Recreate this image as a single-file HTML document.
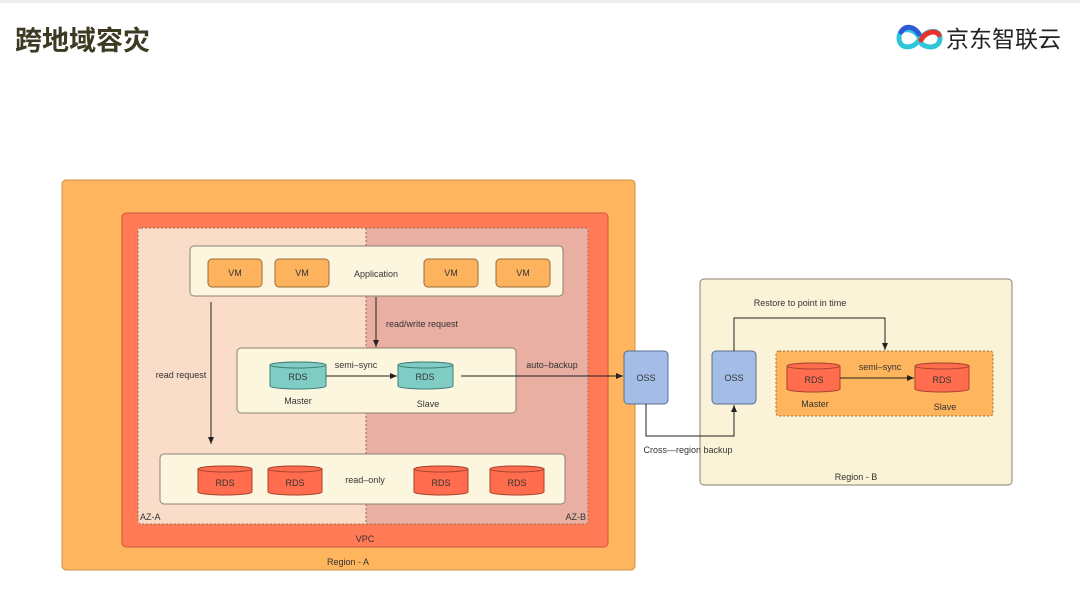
<!DOCTYPE html>
<html><head><meta charset="utf-8"><style>
html,body{margin:0;padding:0;background:#fff;}
svg{display:block;}
text{font-family:"Liberation Sans","Noto Sans CJK SC",sans-serif;}
</style></head><body>
<svg width="1080" height="591" viewBox="0 0 1080 591" xmlns="http://www.w3.org/2000/svg">
<defs>
<marker id="ar" markerWidth="8" markerHeight="8" refX="7" refY="4" orient="auto" markerUnits="userSpaceOnUse"><path d="M0,1 L7,4 L0,7 Z" fill="#222"/></marker>
</defs>
<rect x="0" y="0" width="1080" height="3" fill="#eeeeee"/>
<text x="15" y="50" font-size="27" font-weight="bold" fill="#3c3a22" font-family="Noto Sans CJK SC, sans-serif">跨地域容灾</text>
<!-- logo -->
<g fill="none" stroke-width="5" stroke-linecap="round">
<path d="M919,37 C913,27 899,27 899,38 C899,49 913,50 919,40 C925,30 940,28 940,38 C940,49 926,49 921,43" stroke="#2fc6dc"/>
<path d="M901,32 C905,25 914,26 919,34" stroke="#2d5bd8"/>
<path d="M921,40 C926,31 936,30 939,35" stroke="#e8322c"/>
</g>
<text x="946" y="47" font-size="23" fill="#222" font-family="Noto Sans CJK SC, sans-serif">京东智联云</text>

<!-- Region A -->
<rect x="62" y="180" width="573" height="390" rx="4" fill="#FFB55E" stroke="#c9914a" stroke-width="1"/>
<rect x="122" y="213" width="486" height="334" rx="4" fill="#FF7A55" stroke="#c85a3e" stroke-width="1"/>
<rect x="138" y="228" width="228" height="296" fill="#F9DDC8"/>
<rect x="366" y="228" width="222" height="296" fill="#E8AFA2"/>
<rect x="138" y="228" width="450" height="296" rx="3" fill="none" stroke="#9a6a5a" stroke-width="1" stroke-dasharray="2,2"/>
<line x1="366" y1="228" x2="366" y2="524" stroke="#9a6a5a" stroke-width="1" stroke-dasharray="2,2"/>
<text x="140" y="520" font-size="9" fill="#333">AZ-A</text>
<text x="586" y="520" font-size="9" fill="#333" text-anchor="end">AZ-B</text>
<text x="365" y="542" font-size="9" fill="#333" text-anchor="middle">VPC</text>
<text x="348" y="565" font-size="9" fill="#333" text-anchor="middle">Region - A</text>

<!-- Application -->
<rect x="190" y="246" width="373" height="50" rx="4" fill="#FDF6DF" stroke="#8a8270" stroke-width="1"/>
<g fill="#FDB35E" stroke="#9a6a3a" stroke-width="1">
<rect x="208" y="259" width="54" height="28" rx="4"/>
<rect x="275" y="259" width="54" height="28" rx="4"/>
<rect x="424" y="259" width="54" height="28" rx="4"/>
<rect x="496" y="259" width="54" height="28" rx="4"/>
</g>
<g font-size="9" fill="#333" text-anchor="middle">
<text x="235" y="276">VM</text><text x="302" y="276">VM</text><text x="451" y="276">VM</text><text x="523" y="276">VM</text>
<text x="376" y="277">Application</text>
</g>

<!-- middle box -->
<rect x="237" y="348" width="279" height="65" rx="4" fill="#FDF6DF" stroke="#8a8270" stroke-width="1"/>
<g fill="#7ECCC4" stroke="#3f7f78" stroke-width="1">
<path d="M270,365 A28,3 0 0 1 326,365 V386 A28,3 0 0 1 270,386 Z"/><ellipse cx="298" cy="365" rx="28" ry="3"/>
<path d="M398,365 A27.5,3 0 0 1 453,365 V386 A27.5,3 0 0 1 398,386 Z"/><ellipse cx="425.5" cy="365" rx="27.5" ry="3"/>
</g>
<g font-size="9" fill="#333" text-anchor="middle">
<text x="298" y="380">RDS</text><text x="425" y="380">RDS</text>
<text x="298" y="404">Master</text><text x="428" y="407">Slave</text>
<text x="356" y="368">semi–sync</text>
<text x="181" y="378">read request</text>
<text x="552" y="368">auto–backup</text>
</g>
<text x="386" y="327" font-size="9" fill="#333">read/write request</text>
<line x1="326" y1="376" x2="397" y2="376" stroke="#222" stroke-width="1" marker-end="url(#ar)"/>
<line x1="376" y1="297" x2="376" y2="347" stroke="#222" stroke-width="1" marker-end="url(#ar)"/>
<line x1="211" y1="302" x2="211" y2="444" stroke="#222" stroke-width="1" marker-end="url(#ar)"/>
<line x1="461" y1="376" x2="623" y2="376" stroke="#222" stroke-width="1" marker-end="url(#ar)"/>

<!-- bottom box -->
<rect x="160" y="454" width="405" height="50" rx="4" fill="#FDF6DF" stroke="#8a8270" stroke-width="1"/>
<g fill="#FF6D4E" stroke="#a8432e" stroke-width="1">
<path d="M198,469 A27,3 0 0 1 252,469 V492 A27,3 0 0 1 198,492 Z"/><ellipse cx="225" cy="469" rx="27" ry="3"/>
<path d="M268,469 A27,3 0 0 1 322,469 V492 A27,3 0 0 1 268,492 Z"/><ellipse cx="295" cy="469" rx="27" ry="3"/>
<path d="M414,469 A27,3 0 0 1 468,469 V492 A27,3 0 0 1 414,492 Z"/><ellipse cx="441" cy="469" rx="27" ry="3"/>
<path d="M490,469 A27,3 0 0 1 544,469 V492 A27,3 0 0 1 490,492 Z"/><ellipse cx="517" cy="469" rx="27" ry="3"/>
</g>
<g font-size="9" fill="#333" text-anchor="middle">
<text x="225" y="486">RDS</text><text x="295" y="486">RDS</text><text x="441" y="486">RDS</text><text x="517" y="486">RDS</text>
<text x="365" y="483">read–only</text>
</g>

<!-- Region B -->
<rect x="700" y="279" width="312" height="206" rx="4" fill="#FBF3D7" stroke="#8a8270" stroke-width="1"/>
<text x="856" y="480" font-size="9" fill="#333" text-anchor="middle">Region - B</text>
<rect x="776" y="351" width="217" height="65" rx="3" fill="#FFB55E" stroke="#9a6a3a" stroke-width="1" stroke-dasharray="2,2"/>
<g fill="#FF6D4E" stroke="#a8432e" stroke-width="1">
<path d="M787,366 A26.5,3 0 0 1 840,366 V389 A26.5,3 0 0 1 787,389 Z"/><ellipse cx="813.5" cy="366" rx="26.5" ry="3"/>
<path d="M915,366 A27,3 0 0 1 969,366 V389 A27,3 0 0 1 915,389 Z"/><ellipse cx="942" cy="366" rx="27" ry="3"/>
</g>
<g font-size="9" fill="#333" text-anchor="middle">
<text x="814" y="383">RDS</text><text x="942" y="383">RDS</text>
<text x="815" y="407">Master</text><text x="945" y="410">Slave</text>
<text x="880" y="370">semi–sync</text>
<text x="800" y="306">Restore to point in time</text>
<text x="688" y="453">Cross—region backup</text>
</g>
<line x1="840" y1="378" x2="914" y2="378" stroke="#222" stroke-width="1" marker-end="url(#ar)"/>

<!-- OSS -->
<rect x="624" y="351" width="44" height="53" rx="4" fill="#A3BDE6" stroke="#5a6f92" stroke-width="1"/>
<rect x="712" y="351" width="44" height="53" rx="4" fill="#A3BDE6" stroke="#5a6f92" stroke-width="1"/>
<text x="646" y="381" font-size="9" fill="#333" text-anchor="middle">OSS</text>
<text x="734" y="381" font-size="9" fill="#333" text-anchor="middle">OSS</text>
<polyline points="646,404 646,436 734,436 734,405" fill="none" stroke="#222" stroke-width="1" marker-end="url(#ar)"/>
<polyline points="734,351 734,318 885,318 885,350" fill="none" stroke="#222" stroke-width="1" marker-end="url(#ar)"/>
</svg>
</body></html>
